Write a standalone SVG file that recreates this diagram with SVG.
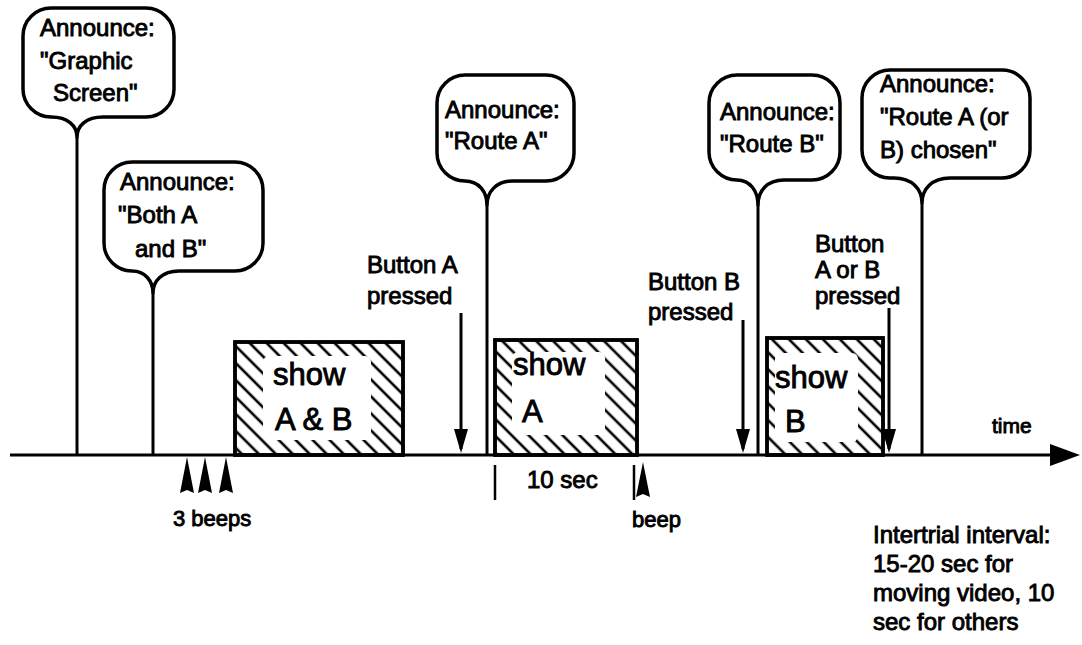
<svg xmlns="http://www.w3.org/2000/svg" width="1082" height="645" viewBox="0 0 1082 645">
<style>
.bub{fill:#fff;stroke:#000;stroke-width:3.5;stroke-linejoin:round}
.ln{stroke:#000;stroke-width:3;fill:none}
.tk{stroke:#000;stroke-width:2.5;fill:none}
.box{fill:url(#hatch);stroke:#000;stroke-width:3.5}
.clear{fill:#fff;stroke:none}
.head{fill:#000;stroke:none}
text{font-family:"Liberation Sans",Arial,Helvetica,sans-serif;fill:#000;stroke:#000;stroke-width:0.9}
.t24{font-size:24px}
.t22{font-size:22px}
.t21{font-size:21px}
.t31{font-size:31px}
</style>
<defs>
<pattern id="hatch" patternUnits="userSpaceOnUse" width="12" height="12" patternTransform="rotate(-45)">
<rect width="12" height="12" fill="#fff"/>
<line x1="6" y1="0" x2="6" y2="12" stroke="#000" stroke-width="2.6"/>
</pattern>
<marker id="ah" viewBox="0 0 24 14" markerWidth="24" markerHeight="14" refX="20" refY="7" orient="auto" markerUnits="userSpaceOnUse">
<path d="M0,0 L24,7 L0,14 Z" fill="#000"/>
</marker>
</defs>
<rect width="1082" height="645" fill="#fff"/>

<g id="connectors">
<line class="ln" x1="77" y1="137" x2="77" y2="455"/>
<line class="ln" x1="153" y1="293" x2="153" y2="455"/>
<line class="ln" x1="487" y1="205" x2="487" y2="455"/>
<line class="ln" x1="758" y1="205" x2="758" y2="455"/>
<line class="ln" x1="922" y1="203" x2="922" y2="455"/>
<line class="ln" x1="461" y1="313" x2="461" y2="449" marker-end="url(#ah)"/>
<line class="ln" x1="743" y1="320" x2="743" y2="449" marker-end="url(#ah)"/>
<line class="ln" x1="889" y1="308" x2="889" y2="449" marker-end="url(#ah)"/>
</g>

<g id="box-show-ab">
<rect class="box" x="235" y="342" width="168" height="113"/>
<rect class="clear" x="263" y="356" width="108" height="84" rx="6"/>
<rect x="235" y="342" width="168" height="113" fill="none" stroke="#000" stroke-width="3.5"/>
<text class="t31" x="273" y="385">show</text>
<text class="t31" x="275" y="430">A &amp; B</text>
</g>

<g id="box-show-a">
<rect class="box" x="495" y="340" width="142" height="115"/>
<rect class="clear" x="512" y="352" width="93" height="83" rx="6"/>
<rect x="495" y="340" width="142" height="115" fill="none" stroke="#000" stroke-width="3.5"/>
<text class="t31" x="513" y="375">show</text>
<text class="t31" x="522" y="422">A</text>
</g>

<g id="box-show-b">
<rect class="box" x="767" y="338" width="116" height="117"/>
<rect class="clear" x="775" y="353" width="83" height="89" rx="6"/>
<rect x="767" y="338" width="116" height="117" fill="none" stroke="#000" stroke-width="3.5"/>
<text class="t31" x="775" y="388">show</text>
<text class="t31" x="785" y="432">B</text>
</g>

<g id="timeline">
<line class="ln" x1="10" y1="455" x2="1052" y2="455"/>
<polygon class="head" points="1050,444 1080,455 1050,466"/>
<text class="t21" x="992" y="433">time</text>
</g>

<g id="bubble-graphic-screen">
<path class="bub" d="M77,137 C77,126 68,117 51,117 A28,28 0 0 1 23,89 L23,36 A28,28 0 0 1 51,8 L146,8 A28,28 0 0 1 174,36 L174,89 A28,28 0 0 1 146,117 L103,117 C86,117 77,126 77,137 Z"/>
<text class="t24" x="40" y="36">Announce:</text>
<text class="t24" x="40" y="69">"Graphic</text>
<text class="t24" x="53" y="101">Screen"</text>
</g>

<g id="bubble-both">
<path class="bub" d="M153,293 C153,281 145,271 132,271 A28,28 0 0 1 104,243 L104,190 A28,28 0 0 1 132,162 L235,162 A28,28 0 0 1 263,190 L263,243 A28,28 0 0 1 235,271 L179,271 C162,271 153,281 153,293 Z"/>
<text class="t24" x="120" y="190">Announce:</text>
<text class="t24" x="118" y="223">"Both A</text>
<text class="t24" x="135" y="257">and B"</text>
</g>

<g id="bubble-route-a">
<path class="bub" d="M487,205 C487,192 479,181 465,181 A28,28 0 0 1 437,153 L437,103 A28,28 0 0 1 465,75 L546,75 A28,28 0 0 1 574,103 L574,153 A28,28 0 0 1 546,181 L513,181 C496,181 487,192 487,205 Z"/>
<text class="t24" x="445" y="118">Announce:</text>
<text class="t24" x="445" y="149">"Route A"</text>
</g>

<g id="bubble-route-b">
<path class="bub" d="M758,205 C758,191 750,180 737,180 A28,28 0 0 1 709,152 L709,103 A28,28 0 0 1 737,75 L812,75 A28,28 0 0 1 840,103 L840,152 A28,28 0 0 1 812,180 L784,180 C767,180 758,191 758,205 Z"/>
<text class="t24" x="720" y="120">Announce:</text>
<text class="t24" x="720" y="152">"Route B"</text>
</g>

<g id="bubble-chosen">
<path class="bub" d="M922,203 C922,189 912,178 894,178 L890,178 A28,28 0 0 1 862,150 L862,98 A28,28 0 0 1 890,70 L1002,70 A28,28 0 0 1 1030,98 L1030,150 A28,28 0 0 1 1002,178 L950,178 C932,178 922,189 922,203 Z"/>
<text class="t24" x="880" y="92">Announce:</text>
<text class="t24" x="880" y="125">"Route A (or</text>
<text class="t24" x="880" y="158">B) chosen"</text>
</g>

<g id="label-button-a">
<text class="t24" x="367" y="273">Button A</text>
<text class="t24" x="367" y="304">pressed</text>
</g>

<g id="label-button-b">
<text class="t24" x="648" y="290">Button B</text>
<text class="t24" x="648" y="320">pressed</text>
</g>

<g id="label-button-ab">
<text class="t24" x="815" y="252">Button</text>
<text class="t24" x="815" y="278">A or B</text>
<text class="t24" x="815" y="304">pressed</text>
</g>

<g id="beeps3">
<polygon class="head" points="187,457 194,493 187,490 180,493"/>
<polygon class="head" points="205,457 212,493 205,490 198,493"/>
<polygon class="head" points="226,457 233,493 226,490 219,493"/>
<text class="t22" x="173" y="526">3 beeps</text>
</g>

<g id="interval-10sec">
<line class="tk" x1="495" y1="465" x2="495" y2="500"/>
<line class="tk" x1="634" y1="465" x2="634" y2="500"/>
<text class="t24" x="527" y="488">10 sec</text>
</g>

<g id="beep1">
<polygon class="head" points="643,462 650,497 643,494 636,497"/>
<text class="t22" x="632" y="527">beep</text>
</g>

<g id="intertrial">
<text class="t24" x="873" y="543">Intertrial interval:</text>
<text class="t24" x="873" y="572">15-20 sec for</text>
<text class="t24" x="873" y="601">moving video, 10</text>
<text class="t24" x="873" y="630">sec for others</text>
</g>
</svg>
